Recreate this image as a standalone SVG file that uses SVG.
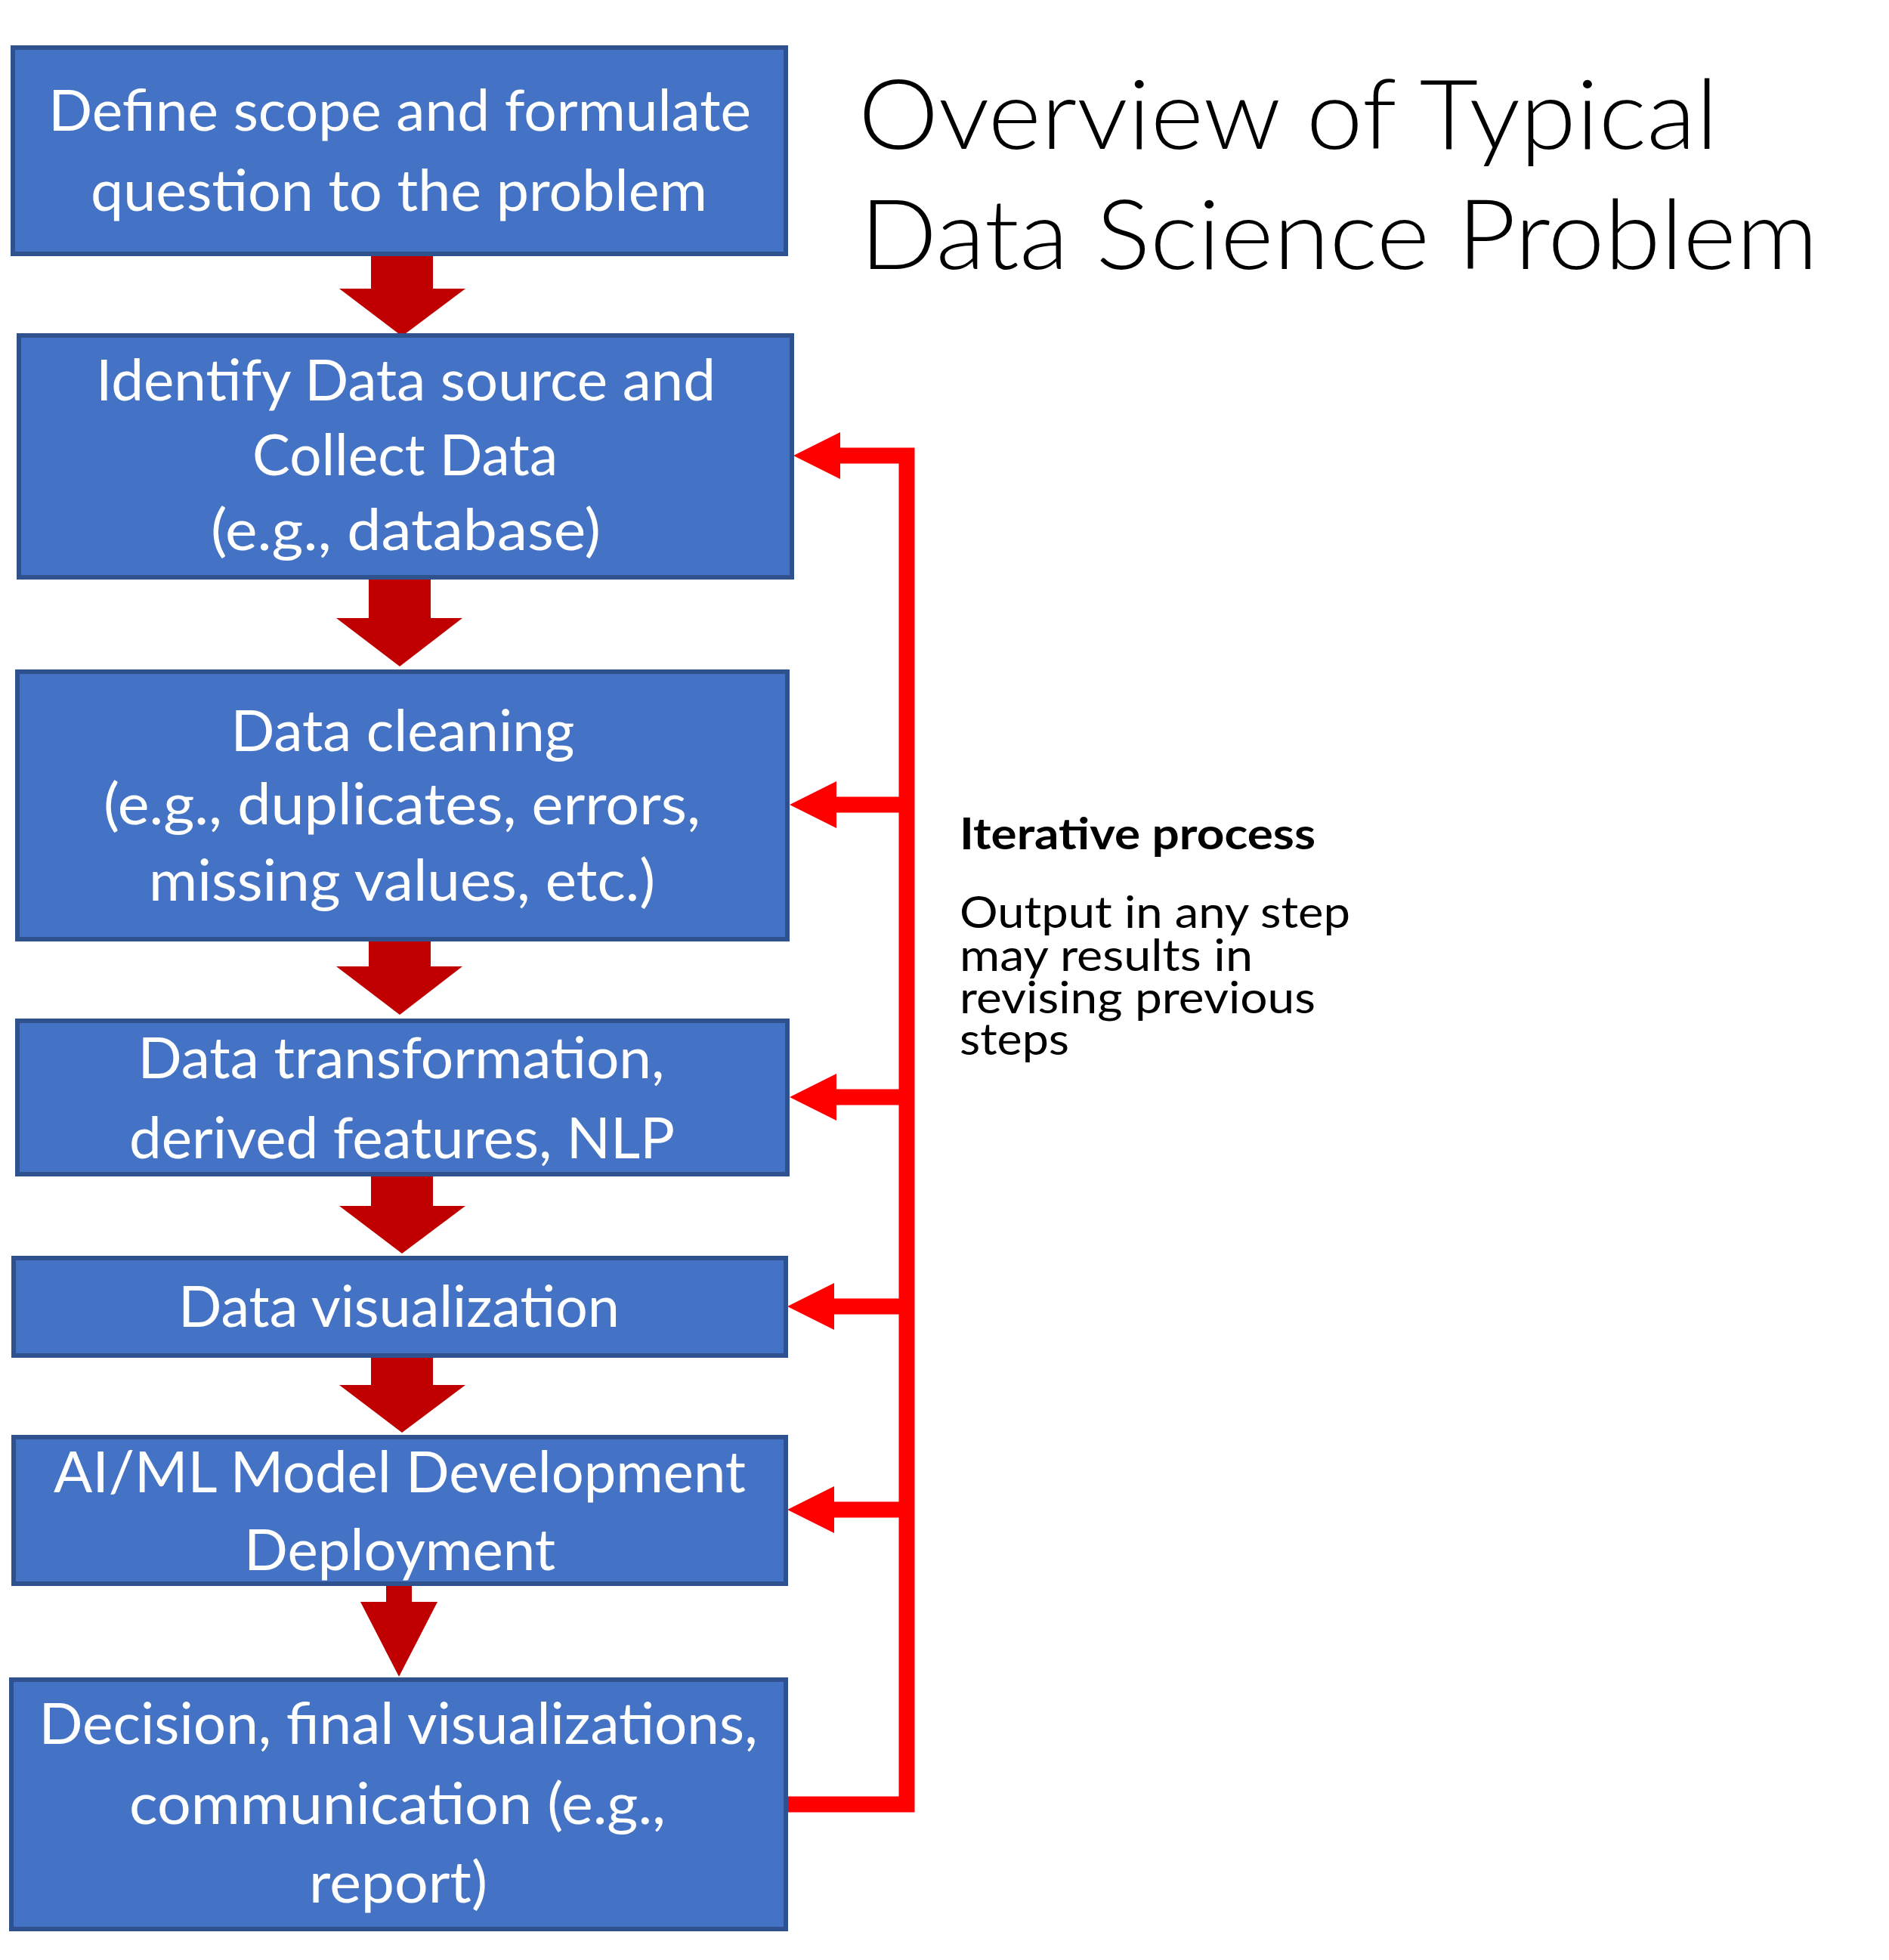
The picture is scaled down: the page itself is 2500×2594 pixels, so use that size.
<svg xmlns="http://www.w3.org/2000/svg" xmlns:xlink="http://www.w3.org/1999/xlink" width="2500" height="2594" viewBox="0 0 2500 2594">
<style>
.box{fill:#4472C4;stroke:#2F528F;stroke-width:6}
.bt{fill:#FFFFFF;font-family:Lato,"Open Sans","Liberation Sans",sans-serif;font-size:75px;text-anchor:middle}
.down{fill:#C00000}
.fb{fill:none;stroke:#FF0000;stroke-width:21;stroke-linejoin:miter}
.head{fill:#FF0000}
.title{fill:#000000;font-family:Lato,"Open Sans","Liberation Sans",sans-serif;font-weight:300;font-size:128px}
.note{fill:#000000;font-family:Lato,"Open Sans","Liberation Sans",sans-serif;font-size:58px}
.noteb{font-weight:bold}
</style>
<defs>
<path id="lh" d="M0,0 L62,-31 L62,31 Z"/>
</defs>
<rect width="2500" height="2594" fill="#FFFFFF"/>

<g id="connectors">
<polygon class="down" points="491,339 573,339 573,382 616,382 532,445 449,382 491,382"/>
<polygon class="down" points="488,767 570,767 570,818 612,818 529,882 445,818 488,818"/>
<polygon class="down" points="488,1246 570,1246 570,1279 612,1279 529,1343 445,1279 488,1279"/>
<polygon class="down" points="491,1557 573,1557 573,1596 616,1596 532,1659 449,1596 491,1596"/>
<polygon class="down" points="491,1797 573,1797 573,1833 616,1833 532,1896 449,1833 491,1833"/>
<polygon class="down" points="511,2099 545,2099 545,2120 579,2120 528,2219 477,2120 511,2120"/>
<path class="fb" d="M1043,2388 H1200 V603 H1110"/>
<path class="fb" d="M1200,1065 H1105 M1200,1452 H1105 M1200,1729 H1102 M1200,1998 H1102"/>
<use xlink:href="#lh" class="head" x="1050" y="603"/>
<use xlink:href="#lh" class="head" x="1045" y="1065"/>
<use xlink:href="#lh" class="head" x="1045" y="1452"/>
<use xlink:href="#lh" class="head" x="1042" y="1729"/>
<use xlink:href="#lh" class="head" x="1042" y="1998"/>
</g>

<g id="n1">
<rect class="box" x="17" y="63" width="1023" height="273"/>
<text class="bt" x="529" y="173" textLength="930" lengthAdjust="spacingAndGlyphs">Define scope and formulate</text>
<text class="bt" x="528" y="279" textLength="816" lengthAdjust="spacingAndGlyphs">question to the problem</text>
</g>

<g id="n2">
<rect class="box" x="25" y="444" width="1023" height="320"/>
<text class="bt" x="537" y="530" textLength="820" lengthAdjust="spacingAndGlyphs">Identify Data source and</text>
<text class="bt" x="536" y="629" textLength="404" lengthAdjust="spacingAndGlyphs">Collect Data</text>
<text class="bt" x="537" y="728" textLength="516" lengthAdjust="spacingAndGlyphs">(e.g., database)</text>
</g>

<g id="n3">
<rect class="box" x="23" y="889" width="1019" height="354"/>
<text class="bt" x="533" y="994" textLength="455" lengthAdjust="spacingAndGlyphs">Data cleaning</text>
<text class="bt" x="532" y="1091" textLength="790" lengthAdjust="spacingAndGlyphs">(e.g., duplicates, errors,</text>
<text class="bt" x="532" y="1192" textLength="670" lengthAdjust="spacingAndGlyphs">missing values, etc.)</text>
</g>

<g id="n4">
<rect class="box" x="23" y="1351" width="1019" height="203"/>
<text class="bt" x="531" y="1427" textLength="697" lengthAdjust="spacingAndGlyphs">Data transformation,</text>
<text class="bt" x="532" y="1533" textLength="722" lengthAdjust="spacingAndGlyphs">derived features, NLP</text>
</g>

<g id="n5">
<rect class="box" x="18" y="1665" width="1022" height="129"/>
<text class="bt" x="528" y="1756" textLength="584" lengthAdjust="spacingAndGlyphs">Data visualization</text>
</g>

<g id="n6">
<rect class="box" x="18" y="1902" width="1022" height="194"/>
<text class="bt" x="529" y="1975" textLength="916" lengthAdjust="spacingAndGlyphs">AI/ML Model Development</text>
<text class="bt" x="529" y="2078" textLength="412" lengthAdjust="spacingAndGlyphs">Deployment</text>
</g>

<g id="n7">
<rect class="box" x="15" y="2223" width="1025" height="330"/>
<text class="bt" x="527" y="2308" textLength="951" lengthAdjust="spacingAndGlyphs">Decision, final visualizations,</text>
<text class="bt" x="526" y="2414" textLength="710" lengthAdjust="spacingAndGlyphs">communication (e.g.,</text>
<text class="bt" x="527" y="2518" textLength="236" lengthAdjust="spacingAndGlyphs">report)</text>
</g>

<g id="title">
<text class="title" x="1136" y="197" textLength="1138" lengthAdjust="spacingAndGlyphs">Overview of Typical</text>
<text class="title" x="1138" y="356" textLength="1268" lengthAdjust="spacingAndGlyphs">Data Science Problem</text>
</g>

<g id="note">
<text class="note noteb" x="1270" y="1124" textLength="471" lengthAdjust="spacingAndGlyphs">Iterative process</text>
<text class="note" x="1270" y="1228" textLength="517" lengthAdjust="spacingAndGlyphs">Output in any step</text>
<text class="note" x="1270" y="1285" textLength="388" lengthAdjust="spacingAndGlyphs">may results in</text>
<text class="note" x="1270" y="1341" textLength="471" lengthAdjust="spacingAndGlyphs">revising previous</text>
<text class="note" x="1270" y="1396" textLength="145" lengthAdjust="spacingAndGlyphs">steps</text>
</g>
</svg>
